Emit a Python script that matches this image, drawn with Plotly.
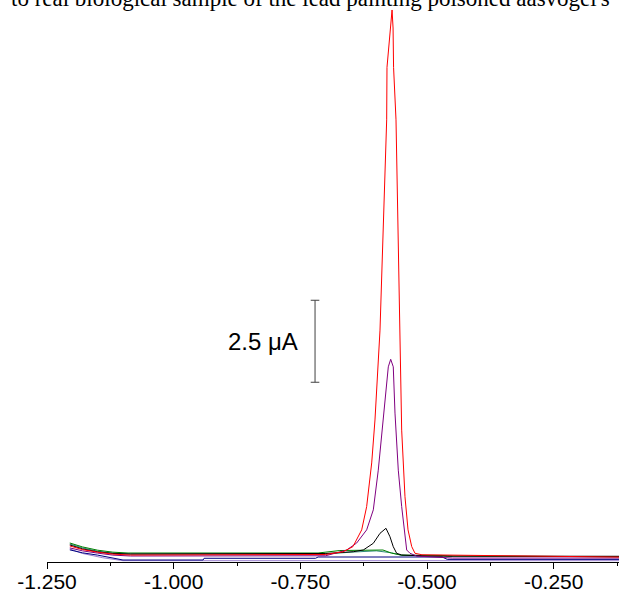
import plotly.graph_objects as go

# ---- data (potential in V, current in µA) ----
RED_X = [-1.205, -1.18, -1.15, -1.12, -1.085, -0.95, -0.90, -0.75, -0.70, -0.6658, -0.6461, -0.6289,
         -0.6191, -0.6092, -0.6027, -0.5928, -0.5796, -0.5790, -0.5720, -0.5690, -0.5670, -0.5660,
         -0.5612, -0.5533, -0.5500, -0.5435, -0.5375, -0.5302, -0.5237, -0.51, -0.45, -0.121]
RED_Y = [0.31, 0.20, 0.12, 0.06, 0.033, 0.033, 0.033, 0.033, 0.05, 0.13, 0.29, 0.80,
         1.51, 2.84, 4.15, 6.89, 13.3, 14.9, 16.2, 16.65, 16.1, 14.9,
         13.3, 6.89, 3.84, 1.81, 0.80, 0.29, 0.085, 0.04, 0.03, -0.03]

PURPLE_X = [-1.205, -1.18, -1.15, -1.12, -1.085, -0.90, -0.70, -0.6585, -0.6388, -0.6191, -0.6060,
            -0.5962, -0.5895, -0.5829, -0.5764, -0.5717, -0.5666, -0.5632, -0.5599, -0.5567, -0.5500,
            -0.5435, -0.5401, -0.5336, -0.52, -0.45, -0.121]
PURPLE_Y = [0.25, 0.16, 0.09, 0.03, 0.003, 0.003, 0.01, 0.186, 0.40, 0.80, 1.41,
            2.62, 3.64, 4.86, 5.77, 6.00, 5.77, 4.36, 3.45, 2.62, 1.51,
            0.59, 0.186, 0.085, 0.0, -0.06, -0.06]

BLACK_X = [-1.205, -1.18, -1.15, -1.12, -1.085, -0.80, -0.70, -0.6454, -0.6258, -0.6060, -0.5928,
           -0.5810, -0.5731, -0.5666, -0.5599, -0.5500, -0.50, -0.121]
BLACK_Y = [0.34, 0.22, 0.13, 0.08, 0.064, 0.064, 0.08, 0.134, 0.186, 0.39, 0.695,
           0.847, 0.59, 0.286, 0.085, 0.033, 0.0, -0.006]

GREEN_X = [-1.205, -1.18, -1.15, -1.12, -1.09, -0.755, -0.75, -0.72, -0.715, -0.672, -0.60,
           -0.587, -0.57, -0.55, -0.47, -0.46, -0.121]
GREEN_Y = [0.40, 0.28, 0.18, 0.12, 0.094, 0.094, 0.115, 0.115, 0.094, 0.17, 0.186,
           0.186, 0.09, 0.03, 0.02, 0.0, -0.02]

TEAL_X = [-1.205, -1.18, -1.15, -1.12, -1.09, -0.70, -0.65, -0.60, -0.57, -0.55, -0.46, -0.45]
TEAL_Y = [0.37, 0.25, 0.15, 0.09, 0.064, 0.064, 0.12, 0.16, 0.10, 0.02, 0.012, -0.01]

NAVY_X = [-1.205, -1.18, -1.15, -1.12, -1.10, -0.942, -0.94, -0.72, -0.715, -0.47, -0.46, -0.121]
NAVY_Y = [0.19, 0.10, 0.03, -0.06, -0.119, -0.119, -0.067, -0.067, -0.028, -0.028, -0.10, -0.10]

LAVENDER_X = [-1.205, -1.18, -1.14, -1.10, -0.121]
LAVENDER_Y = [0.22, 0.08, -0.05, -0.14, -0.14]

SERIES = [
    (LAVENDER_X, LAVENDER_Y, "#9A7FD0"),
    (NAVY_X, NAVY_Y, "#000080"),
    (TEAL_X, TEAL_Y, "#2E8B7A"),
    (GREEN_X, GREEN_Y, "#008000"),
    (BLACK_X, BLACK_Y, "#000000"),
    (PURPLE_X, PURPLE_Y, "#800080"),
    (RED_X, RED_Y, "#FF0000"),
]

TICK_VALUES = [-1.25, -1.0, -0.75, -0.5, -0.25]
TICK_LABELS = ["-1.250", "-1.000", "-0.750", "-0.500", "-0.250"]
MINOR_TICKS = [-1.125, -0.875, -0.625, -0.375, -0.125]

SCALE_BAR_X = -0.721
SCALE_BAR_Y = [5.3, 7.8]          # 2.5 µA
SCALE_BAR_LABEL = "2.5 \u03bcA"

TITLE = "to real biological sample of the lead painting poisoned aasvogel's"

X_RANGE = [-1.25, -0.1211]
Y_RANGE = [-0.18, 16.954]

fig = go.Figure()
for xs, ys, col in SERIES:
    assert len(xs) == len(ys)
    fig.add_trace(go.Scatter(x=xs, y=ys, mode="lines",
                             line=dict(color=col, width=1), showlegend=False,
                             hoverinfo="skip"))

# scale bar
cap = 0.0085
fig.add_shape(type="line", xref="x", yref="y", x0=SCALE_BAR_X, x1=SCALE_BAR_X,
              y0=SCALE_BAR_Y[0], y1=SCALE_BAR_Y[1], line=dict(color="#404040", width=1))
for yv in SCALE_BAR_Y:
    fig.add_shape(type="line", xref="x", yref="y", x0=SCALE_BAR_X - cap, x1=SCALE_BAR_X + cap,
                  y0=yv, y1=yv, line=dict(color="#404040", width=1))
fig.add_annotation(x=-0.7507, y=sum(SCALE_BAR_Y) / 2, xref="x", yref="y",
                   text=SCALE_BAR_LABEL, showarrow=False, xanchor="right", yanchor="middle",
                   font=dict(family="Arial, Liberation Sans, sans-serif", size=24, color="black"))

# clipped title line at top
fig.add_annotation(x=0.46, y=1, xref="paper", yref="paper", text=TITLE, showarrow=False,
                   xanchor="center", yanchor="bottom", yshift=-13,
                   font=dict(family="Times New Roman, Liberation Serif, serif", size=23, color="black"))

fig.update_xaxes(range=X_RANGE, showline=True, linecolor="black", linewidth=1,
                 showgrid=False, zeroline=False, ticks="outside", ticklen=6, tickcolor="black",
                 tickvals=TICK_VALUES, ticktext=TICK_LABELS, ticklabelstandoff=-5,
                 tickfont=dict(family="Arial, Liberation Sans, sans-serif", size=21, color="black"),
                 minor=dict(tickmode="array", tickvals=MINOR_TICKS,
                            ticks="outside", ticklen=3, tickcolor="black"))
fig.update_yaxes(range=Y_RANGE, visible=False, showgrid=False, zeroline=False)

fig.update_layout(width=619, height=594, margin=dict(l=47, r=0, t=0, b=32, autoexpand=False),
                  plot_bgcolor="white", paper_bgcolor="white", showlegend=False)

fig.write_html("out.html", config={"displayModeBar": False},
               post_script="document.body.style.margin='0';document.body.style.padding='0';"
                           "document.body.style.overflow='hidden';")
